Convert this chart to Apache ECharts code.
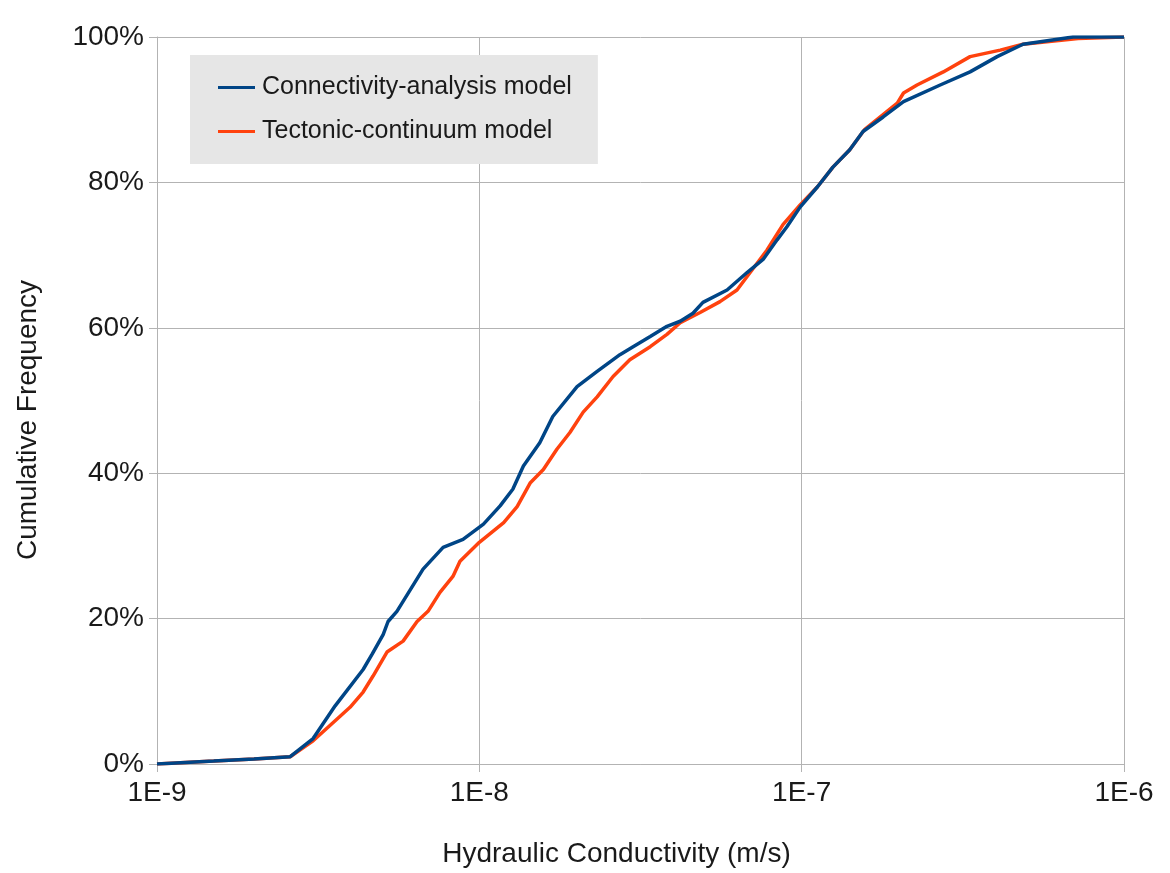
<!DOCTYPE html>
<html>
<head>
<meta charset="utf-8">
<script src="https://cdn.jsdelivr.net/npm/echarts@6/dist/echarts.min.js"></script>
<style>
html,body{margin:0;padding:0;background:#fff;}
#chart{width:1170px;height:873px;}
</style>
</head>
<body>
<div id="chart"></div>
<script>
// Hydraulic conductivity (m/s) and cumulative frequency (%)
const connK = [1e-9,1.5e-9,2e-9,2.59e-9,3.05e-9,3.57e-9,4.36e-9,4.65e-9,5.03e-9,5.21e-9,5.55e-9,6.69e-9,7.72e-9,8.9e-9,1.03e-8,1.16e-8,1.27e-8,1.37e-8,1.54e-8,1.69e-8,2.01e-8,2.32e-8,2.73e-8,3.0e-8,3.39e-8,3.82e-8,4.2e-8,4.6e-8,4.94e-8,5.87e-8,6.77e-8,7.59e-8,8.39e-8,9.0e-8,9.89e-8,1.12e-7,1.25e-7,1.41e-7,1.55e-7,1.79e-7,2.07e-7,2.69e-7,3.33e-7,4.04e-7,4.86e-7,6.95e-7,1e-6];
const connF = [0,0.4,0.7,1.0,3.5,8.0,13.0,15.1,17.8,19.6,21.0,26.8,29.8,30.9,33.0,35.5,37.8,41.0,44.2,47.8,51.9,54.0,56.3,57.4,58.8,60.2,60.9,62.0,63.5,65.2,67.6,69.4,72.1,73.9,76.6,79.4,82.1,84.5,87.0,89.0,91.1,93.4,95.2,97.3,99.0,100,100];

const tectK = [1e-9,1.5e-9,2e-9,2.59e-9,3.05e-9,3.62e-9,3.97e-9,4.36e-9,4.68e-9,5.17e-9,5.8e-9,6.41e-9,6.93e-9,7.55e-9,8.28e-9,8.71e-9,1e-8,1.19e-8,1.31e-8,1.44e-8,1.58e-8,1.74e-8,1.91e-8,2.1e-8,2.32e-8,2.6e-8,2.93e-8,3.39e-8,3.82e-8,4.2e-8,4.84e-8,5.58e-8,6.3e-8,6.92e-8,7.81e-8,8.75e-8,9.89e-8,1.12e-7,1.25e-7,1.41e-7,1.57e-7,1.98e-7,2.07e-7,2.28e-7,2.75e-7,3.33e-7,4.13e-7,4.86e-7,7.2e-7,1e-6];
const tectF = [0,0.4,0.7,1.0,3.2,6.2,7.8,9.9,12.1,15.4,16.9,19.6,21.0,23.6,25.8,27.9,30.5,33.2,35.4,38.7,40.5,43.3,45.6,48.4,50.5,53.3,55.6,57.4,59.1,60.7,62.1,63.6,65.2,67.6,70.7,74.2,76.9,79.4,82.1,84.5,87.3,90.9,92.3,93.4,95.2,97.3,98.2,99.0,99.8,100];

const xTickLabels = ['1E-9','1E-8','1E-7','1E-6'];
const seriesNames = ['Connectivity-analysis model','Tectonic-continuum model'];
const xTitle = 'Hydraulic Conductivity (m/s)';
const yTitle = 'Cumulative Frequency';

const zip = (a, b) => a.map((v, i) => [v, b[i]]);
const FONT = '"Liberation Sans", Arial, sans-serif';

const chart = echarts.init(document.getElementById('chart'));
chart.setOption({
  animation: false,
  backgroundColor: '#ffffff',
  grid: {left: 157, right: 46, top: 37, bottom: 108, containLabel: false},
  legend: {
    orient: 'vertical',
    left: 190, top: 55,
    data: seriesNames,
    icon: 'rect',
    itemWidth: 37, itemHeight: 3,
    itemGap: 19,
    backgroundColor: '#e6e6e6',
    padding: [20, 26, 20, 28],
    textStyle: {fontFamily: FONT, fontSize: 25, color: '#1a1a1a', padding: [0, 0, 0, 2]}
  },
  graphic: [{
    type: 'text', rotation: Math.PI / 2,
    style: {text: yTitle, fontFamily: FONT, fontSize: 28, fill: '#1a1a1a', align: 'center', verticalAlign: 'middle'},
    x: 28, y: 420
  }],
  xAxis: {
    type: 'log', logBase: 10, min: 1e-9, max: 1e-6,
    name: xTitle, nameLocation: 'middle', nameGap: 76,
    nameTextStyle: {fontFamily: FONT, fontSize: 28, color: '#1a1a1a', padding: [0, 48, 0, 0]},
    axisLine: {show: true, lineStyle: {color: '#b3b3b3', width: 1}},
    axisTick: {show: true, length: 8, lineStyle: {color: '#b3b3b3'}},
    axisLabel: {
      fontFamily: FONT, fontSize: 28, color: '#1a1a1a', margin: 15,
      formatter: v => xTickLabels[Math.round(Math.log10(v)) + 9]
    },
    splitLine: {show: true, lineStyle: {color: '#b3b3b3', width: 1}},
    minorTick: {show: false}
  },
  yAxis: {
    type: 'value', min: 0, max: 100, interval: 20,
    axisLine: {show: true, lineStyle: {color: '#b3b3b3', width: 1}},
    axisTick: {show: true, length: 8, lineStyle: {color: '#b3b3b3'}},
    axisLabel: {fontFamily: FONT, fontSize: 28, color: '#1a1a1a', margin: 13, formatter: v => v + '%'},
    splitLine: {show: true, lineStyle: {color: '#b3b3b3', width: 1}}
  },
  series: [
    {
      name: seriesNames[1], type: 'line', data: zip(tectK, tectF),
      showSymbol: false, symbol: 'none', smooth: false,
      lineStyle: {color: '#ff420e', width: 3.5}, itemStyle: {color: '#ff420e'}, z: 2
    },
    {
      name: seriesNames[0], type: 'line', data: zip(connK, connF),
      showSymbol: false, symbol: 'none', smooth: false,
      lineStyle: {color: '#004586', width: 3.5}, itemStyle: {color: '#004586'}, z: 3
    }
  ]
});
</script>
</body>
</html>
